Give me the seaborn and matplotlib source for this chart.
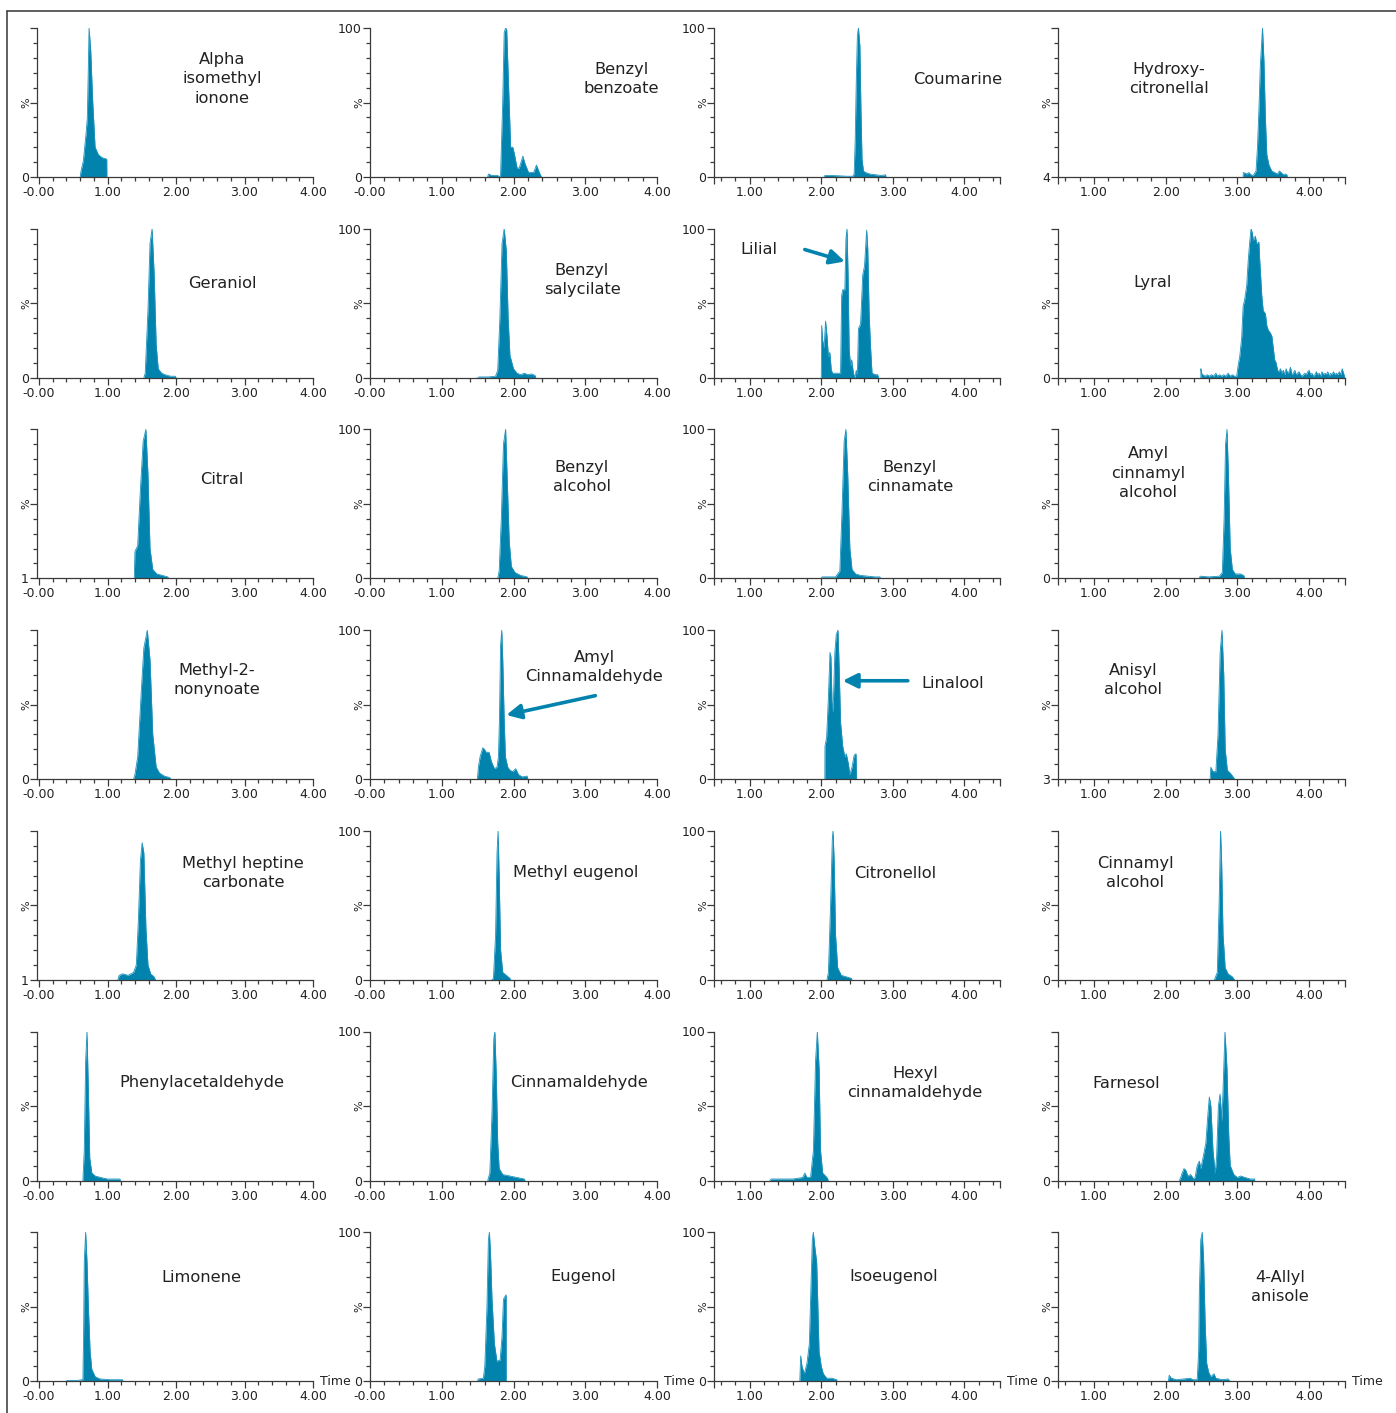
import numpy as np
import matplotlib
matplotlib.use("Agg")
import matplotlib.pyplot as plt
from matplotlib.lines import Line2D
from matplotlib.ticker import FixedLocator, FixedFormatter
import seaborn as sns

# ---------------------------------------------------------------------------
# Extracted-ion chromatograms: retention time (min) vs relative intensity (%)
# ---------------------------------------------------------------------------
ALPHA_ISOMETHYL_IONONE_T = [0.60, 0.613, 0.647, 0.686, 0.705, 0.72, 0.73, 0.754, 0.783, 0.818, 0.866, 0.92, 0.988, 0.99]
ALPHA_ISOMETHYL_IONONE_Y = [0, 4, 11, 29, 40, 75, 100, 85, 51, 20, 15, 13, 12, 0]

BENZYL_BENZOATE_T = [1.64, 1.65, 1.70, 1.78, 1.81, 1.82, 1.85, 1.87, 1.89, 1.905, 1.93, 1.96, 1.99, 2.01, 2.05, 2.08, 2.13, 2.16, 2.21, 2.28, 2.32, 2.36, 2.39]
BENZYL_BENZOATE_Y = [0, 2, 1, 1, 0, 2, 51, 97, 100, 99, 63, 20, 20, 16, 6, 6, 14, 9, 3, 3, 8, 3, 0]

COUMARINE_T = [2.04, 2.05, 2.15, 2.25, 2.36, 2.44, 2.46, 2.475, 2.49, 2.505, 2.52, 2.54, 2.555, 2.57, 2.59, 2.62, 2.68, 2.76, 2.84, 2.90, 2.905]
COUMARINE_Y = [0, 1, 1, 0.8, 0.5, 0.5, 2, 25, 65, 95, 100, 88, 45, 12, 4, 3, 2, 1.5, 1, 1.5, 0]

HYDROXYCITRONELLAL_T = [3.08, 3.083, 3.11, 3.13, 3.16, 3.19, 3.22, 3.26, 3.28, 3.30, 3.32, 3.35, 3.37, 3.39, 3.41, 3.44, 3.48, 3.52, 3.56, 3.585, 3.61, 3.64, 3.67, 3.69, 3.695]
HYDROXYCITRONELLAL_Y = [0, 3, 2.5, 2, 3, 1.5, 1, 4, 20, 45, 75, 100, 78, 40, 15, 8, 4, 3, 2, 4, 3, 1.5, 2, 1.5, 0]

GERANIOL_T = [1.53, 1.55, 1.59, 1.62, 1.65, 1.68, 1.71, 1.74, 1.79, 1.84, 1.92, 1.99, 2.0]
GERANIOL_Y = [0, 3, 45, 90, 100, 70, 22, 6, 3, 2, 1, 1, 0]

BENZYL_SALYCILATE_T = [1.50, 1.52, 1.65, 1.75, 1.78, 1.81, 1.84, 1.87, 1.90, 1.925, 1.95, 2.0, 2.05, 2.10, 2.15, 2.20, 2.25, 2.30, 2.31]
BENZYL_SALYCILATE_Y = [0, 0.5, 0.5, 1, 5, 40, 90, 100, 85, 40, 15, 6, 3, 2, 3, 2, 2.5, 1.5, 0]

LILIAL_T = [2.00, 2.006, 2.02, 2.04, 2.06, 2.08, 2.10, 2.12, 2.14, 2.16, 2.22, 2.27, 2.285, 2.30, 2.33, 2.345, 2.36, 2.375,
            2.39, 2.41, 2.425, 2.45, 2.47, 2.49, 2.505, 2.52, 2.55, 2.58, 2.605, 2.635, 2.65, 2.67, 2.69, 2.71, 2.76, 2.79, 2.80]
LILIAL_Y = [0, 35, 25, 20, 38, 28, 14, 17, 5, 3, 3, 3, 55, 59, 59, 93, 100, 69,
            19, 8, 12, 3, 0, 5, 2, 33, 36, 69, 75, 99, 87, 42, 20, 3, 2, 2, 0]

LYRAL_T = [2.49, 2.492, 2.50, 2.52, 2.55, 2.58, 2.61, 2.64, 2.67, 2.70, 2.72, 2.75, 2.78, 2.81, 2.84, 2.87, 2.90, 2.93, 2.96, 2.99,
           3.01, 3.035, 3.06, 3.08, 3.10, 3.13, 3.15, 3.17, 3.19, 3.21, 3.22, 3.25, 3.27, 3.30, 3.31, 3.34, 3.36, 3.39, 3.41,
           3.43, 3.46, 3.48, 3.50, 3.52, 3.54, 3.56,
           3.58, 3.60, 3.62, 3.64, 3.66, 3.68, 3.70, 3.72, 3.74, 3.76, 3.78, 3.80, 3.82, 3.84, 3.86, 3.88, 3.90, 3.92,
           3.94, 3.96, 3.98, 4.00, 4.02, 4.04, 4.06, 4.08, 4.10, 4.12, 4.14, 4.16, 4.18, 4.20, 4.22, 4.24, 4.26, 4.28,
           4.30, 4.32, 4.34, 4.36, 4.38, 4.40, 4.42, 4.44, 4.46, 4.48, 4.50]
LYRAL_Y = [0, 6, 3, 2, 1, 2, 1, 2, 1, 3, 1, 2, 1, 2, 1, 3, 1, 2, 1, 1,
           8, 15, 27, 48, 52, 62, 78, 90, 100, 97, 92, 95, 90, 91, 80, 55, 45, 43, 35,
           32, 30, 28, 20, 12, 10, 5,
           4, 6, 3, 5, 2, 6, 3, 4, 7, 2, 3, 5, 2, 3, 4, 2, 1, 2,
           3, 2, 4, 5, 2, 3, 1, 2, 4, 2, 3, 1, 4, 2, 3, 2, 4, 1,
           3, 2, 4, 2, 3, 2, 4, 2, 6, 3, 0]

CITRAL_T = [1.39, 1.40, 1.44, 1.48, 1.52, 1.56, 1.59, 1.62, 1.66, 1.72, 1.80, 1.88, 1.89]
CITRAL_Y = [0, 18, 22, 60, 92, 100, 70, 20, 6, 3, 2, 1, 0]

BENZYL_ALCOHOL_T = [1.78, 1.80, 1.83, 1.86, 1.89, 1.91, 1.94, 1.97, 2.02, 2.10, 2.19, 2.20]
BENZYL_ALCOHOL_Y = [0, 5, 40, 90, 100, 70, 25, 8, 4, 2, 1, 0]

BENZYL_CINNAMATE_T = [2.00, 2.01, 2.10, 2.20, 2.26, 2.29, 2.32, 2.345, 2.37, 2.40, 2.43, 2.48, 2.55, 2.65, 2.75, 2.82, 2.83]
BENZYL_CINNAMATE_Y = [0, 1, 1, 1, 5, 45, 92, 100, 70, 20, 6, 3, 2, 1.5, 1, 1, 0]

AMYL_CINNAMYL_ALCOHOL_T = [2.47, 2.48, 2.60, 2.75, 2.79, 2.815, 2.835, 2.855, 2.875, 2.90, 2.93, 2.97, 3.04, 3.09, 3.10]
AMYL_CINNAMYL_ALCOHOL_Y = [0, 1.5, 1, 1.5, 4, 40, 90, 100, 70, 20, 6, 3, 3, 2, 0]

METHYL_2_NONYNOATE_T = [1.38, 1.40, 1.44, 1.47, 1.50, 1.53, 1.58, 1.62, 1.66, 1.71, 1.76, 1.83, 1.91, 1.92]
METHYL_2_NONYNOATE_Y = [0, 3, 15, 40, 65, 88, 100, 80, 30, 8, 4, 2, 1, 0]

AMYL_CINNAMALDEHYDE_T = [1.497, 1.51, 1.534, 1.571, 1.595, 1.62, 1.66, 1.69, 1.734, 1.77, 1.79, 1.804, 1.82, 1.836,
                         1.85, 1.87, 1.887, 1.92, 1.95, 1.99, 2.03, 2.07, 2.12, 2.19, 2.20]
AMYL_CINNAMALDEHYDE_Y = [0, 8, 15, 21, 20, 18, 18, 12, 7, 8, 15, 40, 90, 100,
                         80, 40, 15, 8, 6, 5, 7, 3, 1.5, 2, 0]

LINALOOL_T = [2.05, 2.052, 2.075, 2.10, 2.122, 2.135, 2.15, 2.165, 2.19, 2.21, 2.234, 2.25, 2.27, 2.30, 2.33, 2.35,
              2.38, 2.40, 2.43, 2.46, 2.486, 2.495]
LINALOOL_Y = [0, 22, 28, 55, 85, 82, 52, 45, 85, 97, 100, 75, 38, 22, 15, 17, 10, 3, 8, 16, 17, 0]

ANISYL_ALCOHOL_T = [2.62, 2.63, 2.66, 2.70, 2.73, 2.76, 2.785, 2.81, 2.83, 2.86, 2.90, 2.95, 2.96]
ANISYL_ALCOHOL_Y = [0, 8, 5, 5, 30, 85, 100, 70, 20, 6, 4, 1, 0]

METHYL_HEPTINE_CARBONATE_T = [1.15, 1.17, 1.22, 1.30, 1.38, 1.42, 1.45, 1.48, 1.505, 1.53, 1.56, 1.59, 1.63, 1.68, 1.70]
METHYL_HEPTINE_CARBONATE_Y = [0, 3, 4, 3, 5, 10, 40, 80, 92, 85, 35, 10, 4, 2, 0]

METHYL_EUGENOL_T = [1.70, 1.72, 1.75, 1.77, 1.785, 1.80, 1.82, 1.85, 1.90, 1.95, 1.96]
METHYL_EUGENOL_Y = [0, 1, 30, 85, 100, 70, 20, 5, 3, 1, 0]

CITRONELLOL_T = [2.08, 2.10, 2.13, 2.155, 2.165, 2.18, 2.20, 2.23, 2.28, 2.35, 2.42, 2.43]
CITRONELLOL_Y = [0, 5, 50, 95, 100, 80, 30, 8, 3, 2, 1, 0]

CINNAMYL_ALCOHOL_T = [2.68, 2.72, 2.745, 2.765, 2.78, 2.80, 2.83, 2.87, 2.93, 2.96]
CINNAMYL_ALCOHOL_Y = [0, 5, 50, 100, 80, 30, 8, 4, 2, 0]

PHENYLACETALDEHYDE_T = [0.64, 0.66, 0.68, 0.70, 0.72, 0.74, 0.77, 0.82, 0.90, 1.00, 1.18, 1.19]
PHENYLACETALDEHYDE_Y = [0, 20, 80, 100, 60, 15, 5, 3, 2, 1, 1, 0]

CINNAMALDEHYDE_T = [1.64, 1.67, 1.70, 1.725, 1.74, 1.76, 1.78, 1.80, 1.85, 1.95, 2.05, 2.15, 2.16]
CINNAMALDEHYDE_Y = [0, 5, 45, 95, 100, 70, 25, 8, 4, 3, 2, 1, 0]

HEXYL_CINNAMALDEHYDE_T = [1.28, 1.30, 1.60, 1.74, 1.77, 1.80, 1.85, 1.89, 1.92, 1.945, 1.97, 1.99, 2.02, 2.08, 2.10]
HEXYL_CINNAMALDEHYDE_Y = [0, 1, 1, 2, 5, 2, 2, 20, 80, 100, 75, 20, 5, 2, 0]

FARNESOL_T = [2.19, 2.21, 2.23, 2.256, 2.28, 2.31, 2.35, 2.39, 2.41, 2.44, 2.47, 2.49, 2.52, 2.56, 2.59, 2.609, 2.63,
              2.66, 2.69, 2.71, 2.735, 2.758, 2.785, 2.81, 2.827, 2.855, 2.88, 2.90, 2.95, 3.00, 3.046, 3.11, 3.18,
              3.24, 3.241]
FARNESOL_Y = [0, 2, 5, 8, 7, 3, 4, 1, 2, 10, 13, 8, 15, 25, 45, 56, 50,
              20, 5, 15, 50, 58, 40, 75, 100, 75, 30, 10, 4, 2, 3, 2, 1,
              1, 0]

LIMONENE_T = [0.40, 0.41, 0.55, 0.64, 0.65, 0.66, 0.68, 0.70, 0.72, 0.745, 0.77, 0.82, 0.89, 1.04, 1.22, 1.225]
LIMONENE_Y = [0, 0.5, 0.5, 1, 30, 80, 100, 80, 50, 20, 8, 3, 1.5, 1, 1, 0]

EUGENOL_T = [1.497, 1.51, 1.58, 1.60, 1.63, 1.65, 1.664, 1.68, 1.70, 1.734, 1.77, 1.79, 1.813, 1.84, 1.86, 1.883, 1.897, 1.898]
EUGENOL_Y = [0, 1.5, 2, 10, 50, 95, 100, 85, 55, 25, 13, 14, 14, 30, 55, 57, 58, 0]

ISOEUGENOL_T = [1.70, 1.712, 1.73, 1.763, 1.80, 1.833, 1.86, 1.875, 1.889, 1.91, 1.936, 1.95, 1.969, 2.00, 2.029,
                2.076, 2.15, 2.216, 2.22]
ISOEUGENOL_Y = [0, 17, 10, 5, 12, 25, 70, 95, 100, 90, 80, 55, 20, 10, 5, 2, 2, 1, 0]

ALLYL_ANISOLE_T = [2.038, 2.05, 2.08, 2.15, 2.25, 2.34, 2.38, 2.44, 2.46, 2.47, 2.49, 2.51, 2.53, 2.55, 2.572, 2.60,
                   2.63, 2.674, 2.70, 2.79, 2.87, 2.897]
ALLYL_ANISOLE_Y = [0, 4, 2, 1, 1.5, 2, 1, 1, 20, 60, 95, 100, 80, 40, 12, 6, 3, 5, 2, 1, 1.5, 0]

# Compound names, grid order (row by row)
COMPOUNDS = [
    ["Alpha\nisomethyl\nionone", "Benzyl\nbenzoate", "Coumarine", "Hydroxy-\ncitronellal"],
    ["Geraniol", "Benzyl\nsalycilate", "Lilial", "Lyral"],
    ["Citral", "Benzyl\nalcohol", "Benzyl\ncinnamate", "Amyl\ncinnamyl\nalcohol"],
    ["Methyl-2-\nnonynoate", "Amyl\nCinnamaldehyde", "Linalool", "Anisyl\nalcohol"],
    ["Methyl heptine\ncarbonate", "Methyl eugenol", "Citronellol", "Cinnamyl\nalcohol"],
    ["Phenylacetaldehyde", "Cinnamaldehyde", "Hexyl\ncinnamaldehyde", "Farnesol"],
    ["Limonene", "Eugenol", "Isoeugenol", "4-Allyl\nanisole"],
]

TRACES = [
    [(ALPHA_ISOMETHYL_IONONE_T, ALPHA_ISOMETHYL_IONONE_Y), (BENZYL_BENZOATE_T, BENZYL_BENZOATE_Y),
     (COUMARINE_T, COUMARINE_Y), (HYDROXYCITRONELLAL_T, HYDROXYCITRONELLAL_Y)],
    [(GERANIOL_T, GERANIOL_Y), (BENZYL_SALYCILATE_T, BENZYL_SALYCILATE_Y),
     (LILIAL_T, LILIAL_Y), (LYRAL_T, LYRAL_Y)],
    [(CITRAL_T, CITRAL_Y), (BENZYL_ALCOHOL_T, BENZYL_ALCOHOL_Y),
     (BENZYL_CINNAMATE_T, BENZYL_CINNAMATE_Y), (AMYL_CINNAMYL_ALCOHOL_T, AMYL_CINNAMYL_ALCOHOL_Y)],
    [(METHYL_2_NONYNOATE_T, METHYL_2_NONYNOATE_Y), (AMYL_CINNAMALDEHYDE_T, AMYL_CINNAMALDEHYDE_Y),
     (LINALOOL_T, LINALOOL_Y), (ANISYL_ALCOHOL_T, ANISYL_ALCOHOL_Y)],
    [(METHYL_HEPTINE_CARBONATE_T, METHYL_HEPTINE_CARBONATE_Y), (METHYL_EUGENOL_T, METHYL_EUGENOL_Y),
     (CITRONELLOL_T, CITRONELLOL_Y), (CINNAMYL_ALCOHOL_T, CINNAMYL_ALCOHOL_Y)],
    [(PHENYLACETALDEHYDE_T, PHENYLACETALDEHYDE_Y), (CINNAMALDEHYDE_T, CINNAMALDEHYDE_Y),
     (HEXYL_CINNAMALDEHYDE_T, HEXYL_CINNAMALDEHYDE_Y), (FARNESOL_T, FARNESOL_Y)],
    [(LIMONENE_T, LIMONENE_Y), (EUGENOL_T, EUGENOL_Y),
     (ISOEUGENOL_T, ISOEUGENOL_Y), (ALLYL_ANISOLE_T, ALLYL_ANISOLE_Y)],
]

# Intensity-axis labels printed at the baseline / top of each trace
Y_BOTTOM_LABELS = [
    ["0", "0", "0", "4"],
    ["0", "0", "0", "0"],
    ["1", "0", "0", "0"],
    ["0", "0", "0", "3"],
    ["1", "0", "0", "0"],
    ["0", "0", "0", "0"],
    ["0", "0", "0", "0"],
]
Y_TOP_LABELS = ["", "100", "100", ""]

# ---------------------------------------------------------------------------
# Layout (pixels on a 1396 x 1413 canvas)
# ---------------------------------------------------------------------------
W, H = 1396, 1413
COL_LEFT = [37, 370, 714, 1058]
COL_WIDTH = [276, 287, 286, 287]
COL_XLIM = [(-0.03, 4.0), (0.0, 4.0), (0.5, 4.5), (0.5, 4.5)]
ROW_TOP0, ROW_PITCH, ROW_HEIGHT = 28.0, 200.7, 149.0

# centre of each compound label (pixels)
LABEL_POS = [
    [(222, 79), (621, 79), (958, 79), (1169, 79)],
    [(222, 283), (582, 280), (759, 249), (1153, 283)],
    [(222, 480), (582, 477), (910, 477), (1148, 473)],
    [(217, 680), (594, 667), (953, 684), (1133, 680)],
    [(243, 873), (576, 873), (895, 873), (1135, 873)],
    [(202, 1083), (579, 1083), (915, 1083), (1126, 1083)],
    [(201, 1277), (583, 1277), (894, 1277), (1280, 1287)],
]

# arrows (row, col, tail xy, head xy) in data units
ARROWS = [
    (1, 2, (1.77, 86), (2.33, 78)),
    (3, 1, (3.14, 56), (1.90, 43)),
    (3, 2, (3.21, 66), (2.30, 66)),
]

PEAK_COLOR = "#0283ad"
EDGE_COLOR = "#1d93bd"
AXIS_COLOR = "#3a3a3a"
TEXT_COLOR = "#222222"

sns.set_theme(style="white")
plt.rcParams["font.family"] = ["DejaVu Sans"]

fig = plt.figure(figsize=(W / 100, H / 100), dpi=100)
fig.patch.set_facecolor("white")

axes = {}
for r in range(7):
    top = ROW_TOP0 + ROW_PITCH * r
    for c in range(4):
        left, width = COL_LEFT[c], COL_WIDTH[c]
        ax = fig.add_axes([left / W, 1 - (top + ROW_HEIGHT) / H, width / W, ROW_HEIGHT / H])
        ax.set_facecolor("none")
        axes[(r, c)] = ax
        t, v = TRACES[r][c]

        ax.fill_between(t, v, 0, color=PEAK_COLOR, lw=0, zorder=2)
        sns.lineplot(x=t, y=v, ax=ax, color=EDGE_COLOR, lw=0.6, estimator=None,
                     sort=False, errorbar=None, zorder=3)

        ax.set_xlim(*COL_XLIM[c])
        ax.set_ylim(0, 100)
        ax.set_xlabel("")
        ax.set_ylabel("")
        sns.despine(ax=ax)
        for side in ("left", "bottom"):
            ax.spines[side].set_color(AXIS_COLOR)
            ax.spines[side].set_linewidth(0.9)

        # x axis ticks
        if c < 2:
            xmaj = [0, 1, 2, 3, 4]
            xlab = ["-0.00", "1.00", "2.00", "3.00", "4.00"]
            xmin = [x for x in np.arange(0.2, 4.0, 0.2) if abs(x - round(x)) > 1e-6]
        else:
            xmaj = [0.5, 1, 2, 3, 4, 4.5]
            xlab = ["", "1.00", "2.00", "3.00", "4.00", ""]
            xmin = [x for x in np.arange(0.6, 4.5, 0.2) if abs(x - round(x)) > 1e-6]
        ax.xaxis.set_major_locator(FixedLocator(xmaj))
        ax.xaxis.set_major_formatter(FixedFormatter(xlab))
        ax.xaxis.set_minor_locator(FixedLocator(xmin))

        # y axis ticks
        ax.yaxis.set_major_locator(FixedLocator([0, 50, 100]))
        ax.yaxis.set_major_formatter(FixedFormatter([Y_BOTTOM_LABELS[r][c], "", Y_TOP_LABELS[c]]))
        ax.yaxis.set_minor_locator(FixedLocator([10, 20, 30, 40, 60, 70, 80, 90]))

        ax.tick_params(which="major", direction="out", length=5, width=0.9, color=AXIS_COLOR,
                       labelsize=9, labelcolor=TEXT_COLOR)
        ax.tick_params(which="minor", direction="out", length=3, width=0.9, color=AXIS_COLOR)
        ax.tick_params(axis="x", which="both", bottom=True, pad=1.5)
        ax.tick_params(axis="y", which="both", left=True, pad=0.8)

        # rotated "%" label
        ax.text(-10.5 / width, 0.5, "%", transform=ax.transAxes, rotation=90,
                ha="center", va="center", fontsize=8, color=TEXT_COLOR)

        # compound name
        px, py = LABEL_POS[r][c]
        fig.text(px / W, 1 - py / H, COMPOUNDS[r][c], ha="center", va="center",
                 multialignment="center", fontsize=11.7, color=TEXT_COLOR, linespacing=1.4)

        if r == 6:
            ax.text(1 + 7 / width, 0, "Time", transform=ax.transAxes, ha="left", va="center",
                    fontsize=9, color=TEXT_COLOR)

for r, c, tail, head in ARROWS:
    axes[(r, c)].annotate("", xy=head, xytext=tail, xycoords="data", textcoords="data",
                          arrowprops=dict(arrowstyle="-|>", color=PEAK_COLOR, lw=2.6,
                                          mutation_scale=22, shrinkA=0, shrinkB=0), zorder=5)

# outer frame (top and left edges)
fig.add_artist(Line2D([7 / W, 1.0], [1 - 10.5 / H, 1 - 10.5 / H], color="#444444", lw=1.2))
fig.add_artist(Line2D([7.5 / W, 7.5 / W], [0.0, 1 - 10.5 / H], color="#444444", lw=1.2))

fig.savefig("out.png", dpi=100, facecolor="white")
